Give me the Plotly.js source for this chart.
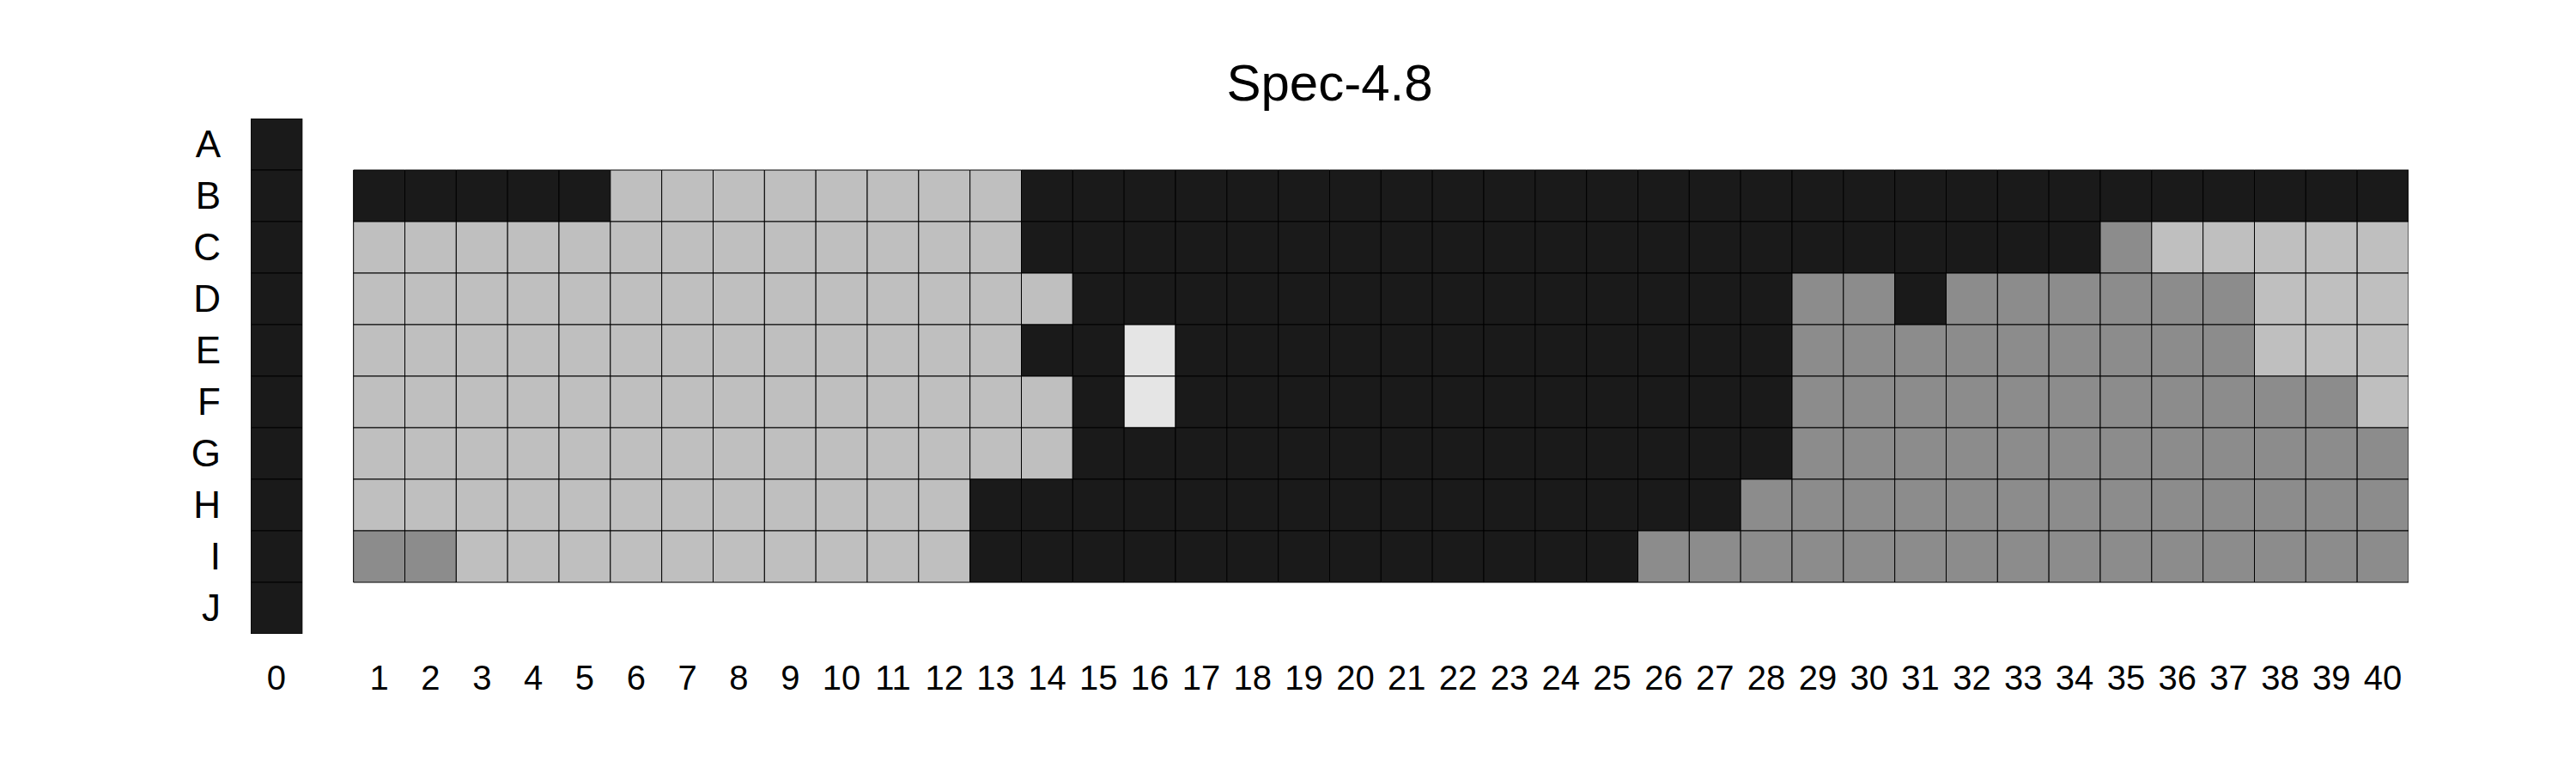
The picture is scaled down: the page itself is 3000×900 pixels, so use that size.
<!DOCTYPE html>
<html>
<head>
<meta charset="utf-8">
<script src="https://cdn.plot.ly/plotly-3.0.1.min.js"></script>
<style>html,body{margin:0;padding:0;background:#fff;}#chart{width:3000px;height:900px;}</style>
</head>
<body>
<div id="chart"></div>
<script>
// ---- data ----
const rows = ['A','B','C','D','E','F','G','H','I','J'];
const columns = ['0','1','2','3','4','5','6','7','8','9','10','11','12','13','14','15','16','17','18','19','20',
                 '21','22','23','24','25','26','27','28','29','30','31','32','33','34','35','36','37','38','39','40'];
// level codes: D = dark, M = mid grey, L = light grey, W = near white
const column0Levels = ['D','D','D','D','D','D','D','D','D','D']; // rows A..J
// columns 1..40 (grouped in tens), rows B..I
const rowB = 'DDDDDLLLLL LLLDDDDDDD DDDDDDDDDD DDDDDDDDDD';
const rowC = 'LLLLLLLLLL LLLDDDDDDD DDDDDDDDDD DDDDMLLLLL';
const rowD = 'LLLLLLLLLL LLLLDDDDDD DDDDDDDDMM DMMMMMMLLL';
const rowE = 'LLLLLLLLLL LLLDDWDDDD DDDDDDDDMM MMMMMMMLLL';
const rowF = 'LLLLLLLLLL LLLLDWDDDD DDDDDDDDMM MMMMMMMMML';
const rowG = 'LLLLLLLLLL LLLLDDDDDD DDDDDDDDMM MMMMMMMMMM';
const rowH = 'LLLLLLLLLL LLDDDDDDDD DDDDDDDMMM MMMMMMMMMM';
const rowI = 'MMLLLLLLLL LLDDDDDDDD DDDDDMMMMM MMMMMMMMMM';
const mainRows = ['B','C','D','E','F','G','H','I'];
const mainLevels = [rowB,rowC,rowD,rowE,rowF,rowG,rowH,rowI];
const levelColors = {D:'#1a1a1a', M:'#8c8c8c', L:'#bfbfbf', W:'#e5e5e5'};

// ---- build cells ----
const gapCat = ' ';
const xCats = [columns[0], gapCat].concat(columns.slice(1));
const cx = [], cbase = [], ch = [], ccol = [], ctext = [];
rows.forEach((r, i) => {
  cx.push(columns[0]); cbase.push(i - 0.5); ch.push(1);
  ccol.push(levelColors[column0Levels[i]]); ctext.push(r + ' / 0');
});
mainRows.forEach((r, k) => {
  const ri = rows.indexOf(r);
  const lv = mainLevels[k].replace(/\s+/g, '').split('');
  lv.forEach((code, j) => {
    const c = columns[j + 1];
    cx.push(c); cbase.push(ri - 0.5); ch.push(1);
    ccol.push(levelColors[code]); ctext.push(r + ' / ' + c);
  });
});

const trace = {
  type: 'bar',
  x: cx, y: ch, base: cbase, width: 1,
  marker: {color: ccol, line: {color: '#000000', width: 1}},
  hovertext: ctext, hoverinfo: 'text',
  showlegend: false
};

const font = 'Liberation Sans, Arial, Helvetica, sans-serif';
const layout = {
  width: 3000, height: 900,
  paper_bgcolor: '#ffffff', plot_bgcolor: '#ffffff',
  margin: {l: 292, r: 195, t: 138, b: 162, pad: 0},
  font: {family: font, color: '#000000'},
  title: {text: 'Spec-4.8', font: {family: font, size: 60, color: '#000000'},
          x: 0.5, xref: 'paper', y: 0.893, yref: 'container', yanchor: 'middle'},
  barmode: 'overlay', bargap: 0,
  xaxis: {type: 'category', categoryorder: 'array', categoryarray: xCats,
          range: [-0.5, xCats.length - 0.5], showgrid: false, zeroline: false,
          showline: false, ticks: '', tickfont: {size: 40, family: font},
          ticklabelstandoff: 24, fixedrange: true},
  yaxis: {range: [rows.length - 0.5, -0.5], tickmode: 'array',
          tickvals: rows.map((r, i) => i), ticktext: rows,
          showgrid: false, zeroline: false, showline: false, ticks: '',
          tickfont: {size: 44, family: font}, ticklabelstandoff: 34, fixedrange: true}
};

Plotly.newPlot('chart', [trace], layout, {displayModeBar: false, staticPlot: true});
</script>
</body>
</html>
